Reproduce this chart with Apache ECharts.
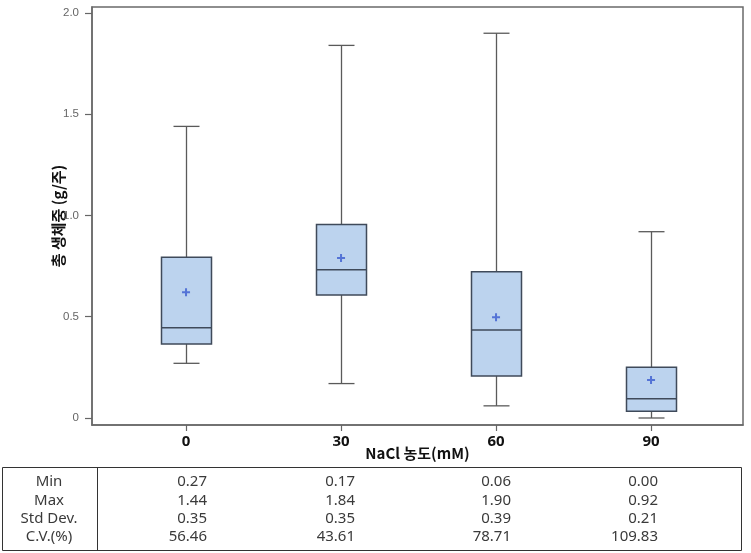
<!DOCTYPE html>
<html>
<head>
<meta charset="utf-8">
<script src="https://cdn.jsdelivr.net/npm/echarts@6/dist/echarts.min.js"></script>
<style>
html,body{margin:0;padding:0;background:#fff;}
#chart{width:751px;height:553px;}
</style>
</head>
<body>
<div id="chart"></div>
<script>
// ---- data ----
const categories = [0, 30, 60, 90];
const minVals    = [0.27, 0.17, 0.06, 0.00];
const q1Vals     = [0.365, 0.607, 0.207, 0.033];
const medianVals = [0.446, 0.732, 0.435, 0.095];
const q3Vals     = [0.794, 0.955, 0.722, 0.250];
const maxVals    = [1.44, 1.84, 1.90, 0.92];
const meanVals   = [0.621, 0.790, 0.497, 0.188];

const yTickValues = [0, 0.5, 1.0, 1.5, 2.0];
const yTickLabels = ['0', '0.5', '1.0', '1.5', '2.0'];
const xTickLabels = ['0', '30', '60', '90'];

const tableRowLabels = ['Min', 'Max', 'Std Dev.', 'C.V.(%)'];
const tableMin = ['0.27', '0.17', '0.06', '0.00'];
const tableMax = ['1.44', '1.84', '1.90', '0.92'];
const tableStd = ['0.35', '0.35', '0.39', '0.21'];
const tableCV  = ['56.46', '43.61', '78.71', '109.83'];

// ---- chart ----
const chart = echarts.init(document.getElementById('chart'));

const boxData = categories.map((c, i) => [c, minVals[i], q1Vals[i], medianVals[i], q3Vals[i], maxVals[i]]);
const meanData = categories.map((c, i) => [c, meanVals[i]]);

const TXT = "'Noto Sans', 'Noto Sans CJK KR', sans-serif";
const KR = "'Noto Sans CJK KR', 'Noto Sans', sans-serif";

// table graphic
const tableRows = [tableMin, tableMax, tableStd, tableCV];
const rowY = [482, 500.3, 518.6, 536.9];
const colRight = [207, 355, 511, 658];
const graphics = [
  { type: 'rect', shape: { x: 2.5, y: 467.5, width: 739, height: 83 },
    style: { fill: '#fff', stroke: '#333', lineWidth: 1 }, z: 1 },
  { type: 'line', shape: { x1: 97.5, y1: 467.5, x2: 97.5, y2: 550.5 },
    style: { stroke: '#333', lineWidth: 1 }, z: 2 }
];
tableRowLabels.forEach((lab, r) => {
  graphics.push({ type: 'text', x: 49, y: rowY[r], z: 3,
    style: { text: lab, font: "15px " + TXT, fill: '#3a3a3a', textAlign: 'center', textVerticalAlign: 'middle' } });
  tableRows[r].forEach((v, c) => {
    graphics.push({ type: 'text', x: colRight[c], y: rowY[r], z: 3,
      style: { text: v, font: "15px " + TXT, fill: '#3a3a3a', textAlign: 'right', textVerticalAlign: 'middle' } });
  });
});

const option = {
  backgroundColor: '#fff',
  animation: false,
  grid: {
    left: 92, right: 8, top: 7, bottom: 128,
    show: true, borderColor: '#6a6a6a', borderWidth: 1.5, backgroundColor: '#fff'
  },
  xAxis: {
    type: 'value',
    min: -18.2, max: 107.8,
    splitLine: { show: false },
    axisLine: { show: true, onZero: false, lineStyle: { color: '#6a6a6a', width: 1.5 } },
    axisTick: { show: true, inside: false, customValues: categories, length: 6, lineStyle: { color: '#666', width: 1.2 } },
    axisLabel: {
      customValues: categories,
      formatter: v => xTickLabels[categories.indexOf(v)] ?? '',
      color: '#111', fontSize: 15, fontWeight: 'bold', fontFamily: TXT, margin: 9
    },
    name: 'NaCl 농도(mM)',
    nameLocation: 'middle',
    nameGap: 21,
    nameMoveOverlap: false,
    nameTextStyle: { color: '#111', fontSize: 15, fontWeight: 'bold', fontFamily: KR }
  },
  yAxis: {
    type: 'value',
    min: -0.0346, max: 2.0296,
    splitLine: { show: false },
    axisLine: { show: true, onZero: false, lineStyle: { color: '#6a6a6a', width: 1.5 } },
    axisTick: { show: true, inside: false, customValues: yTickValues, length: 7, lineStyle: { color: '#666', width: 1.2 } },
    axisLabel: {
      customValues: yTickValues,
      formatter: v => {
        const i = yTickValues.findIndex(t => Math.abs(t - v) < 1e-9);
        return i >= 0 ? yTickLabels[i] : '';
      },
      color: '#666', fontSize: 11.5, fontFamily: "'Liberation Sans', sans-serif", margin: 13
    },
    name: '총 생체중 (g/주)',
    nameLocation: 'middle',
    nameGap: 26,
    nameMoveOverlap: false,
    nameTextStyle: { color: '#111', fontSize: 15, fontWeight: 'bold', fontFamily: KR }
  },
  series: [
    {
      type: 'custom',
      data: boxData,
      encode: { x: 0, y: [1, 2, 3, 4, 5] },
      clip: false,
      renderItem: function (params, api) {
        const x = api.value(0);
        const pMin = api.coord([x, api.value(1)]);
        const pQ1 = api.coord([x, api.value(2)]);
        const pMed = api.coord([x, api.value(3)]);
        const pQ3 = api.coord([x, api.value(4)]);
        const pMax = api.coord([x, api.value(5)]);
        const cx = Math.round(pMin[0]) + 0.5;
        const hw = 25, cw = 13;
        const wStyle = { stroke: '#5a5a5a', lineWidth: 1.3 };
        return {
          type: 'group',
          children: [
            { type: 'line', shape: { x1: cx, y1: pMax[1], x2: cx, y2: pQ3[1] }, style: wStyle },
            { type: 'line', shape: { x1: cx, y1: pQ1[1], x2: cx, y2: pMin[1] }, style: wStyle },
            { type: 'line', shape: { x1: cx - cw, y1: pMax[1], x2: cx + cw, y2: pMax[1] }, style: wStyle },
            { type: 'line', shape: { x1: cx - cw, y1: pMin[1], x2: cx + cw, y2: pMin[1] }, style: wStyle },
            { type: 'rect', shape: { x: cx - hw, y: pQ3[1], width: 2 * hw, height: pQ1[1] - pQ3[1] },
              style: { fill: '#bcd3ee', stroke: '#3f4a5a', lineWidth: 1.5 } },
            { type: 'line', shape: { x1: cx - hw, y1: pMed[1], x2: cx + hw, y2: pMed[1] },
              style: { stroke: '#3f4a5a', lineWidth: 1.5 } }
          ]
        };
      },
      z: 2
    },
    {
      type: 'scatter',
      data: meanData,
      symbol: 'path://M3,0H5V3H8V5H5V8H3V5H0V3H3Z',
      symbolSize: 8,
      itemStyle: { color: '#3a5bd0' },
      z: 3
    }
  ],
  graphic: graphics
};
chart.setOption(option);
</script>
</body>
</html>
